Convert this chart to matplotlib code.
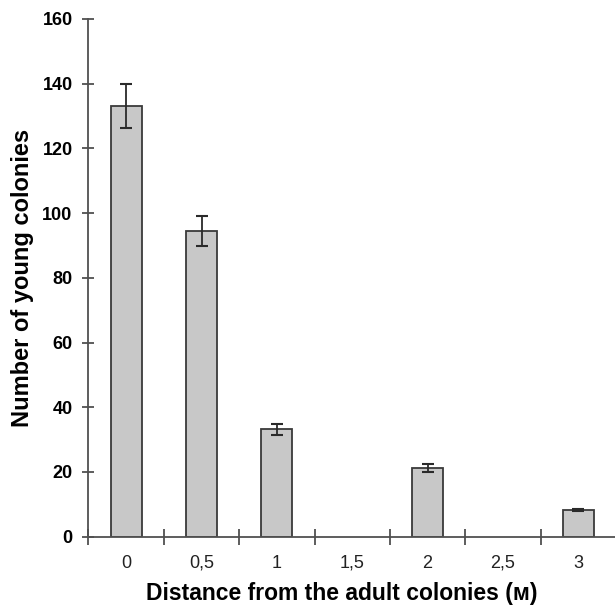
import numpy as np
import matplotlib.pyplot as plt

# data
distances = ['0', '0,5', '1', '1,5', '2', '2,5', '3']
counts = [133, 94.5, 33.2, 0, 21.3, 0, 8.2]
errors = [6.8, 4.7, 1.7, 0, 1.2, 0, 0.4]

plt.rcParams['font.family'] = ['Liberation Sans', 'DejaVu Sans']

fig = plt.figure(figsize=(6.15, 6.05), dpi=100)
ax = fig.add_axes([0.1439, 0.1129, 0.8577, 0.8557])

x = np.arange(len(distances))
heights = np.array(counts)
errs = np.array(errors)
show = heights > 0

ax.bar(x[show], heights[show], width=0.41, color='#c8c8c8',
       edgecolor='#3a3a3a', linewidth=1.3, zorder=2)
ax.errorbar(x[show], heights[show], yerr=errs[show], fmt='none',
            ecolor='#2a2a2a', elinewidth=1.3, capsize=4, capthick=1.5, zorder=3)

ax.set_xlim(-0.5, 6.5)
ax.set_ylim(0, 160)
ax.set_yticks(np.arange(0, 161, 20))
ax.set_xticks(x)
ax.set_xticklabels(distances)
ax.set_xticks(np.arange(-0.5, 6.6, 1), minor=True)

for side in ['top', 'right']:
    ax.spines[side].set_visible(False)
for side in ['left', 'bottom']:
    ax.spines[side].set_color('#505050')
    ax.spines[side].set_linewidth(1.3)

ax.tick_params(axis='x', which='major', length=0, pad=13, labelsize=13,
               labelcolor='#222222')
ax.tick_params(axis='x', which='minor', direction='inout', length=11,
               width=1.3, color='#505050')
ax.tick_params(axis='y', direction='inout', length=9, width=1.3,
               color='#505050', pad=7, labelsize=13)
for lab in ax.get_yticklabels():
    lab.set_fontweight('bold')

ax.set_xlabel('Distance from the adult colonies (м)', fontsize=16.5,
              fontweight='bold')
ax.xaxis.set_label_coords(0.48, -0.087)
ax.set_ylabel('Number of young colonies', fontsize=17,
              fontweight='bold', labelpad=6)

fig.savefig('out.png', dpi=100)
